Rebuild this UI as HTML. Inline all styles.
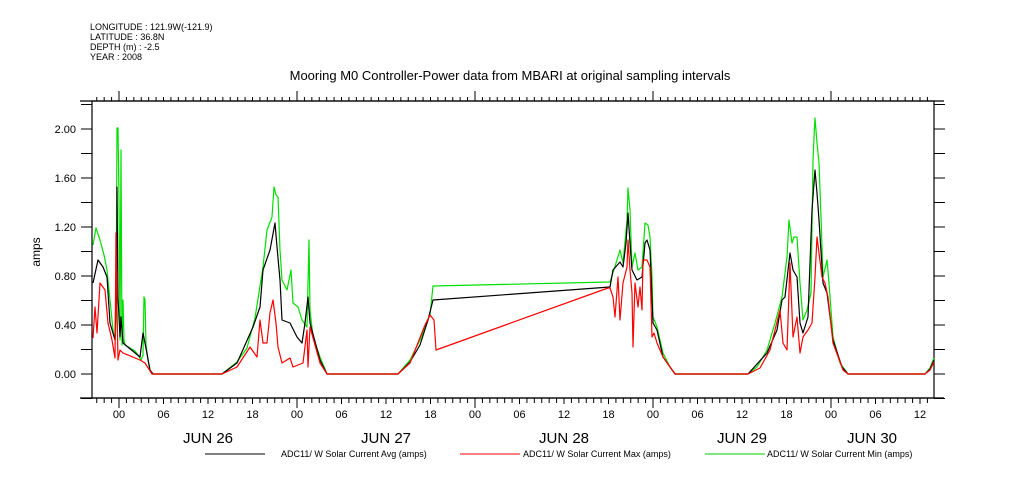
<!DOCTYPE html>
<html><head><meta charset="utf-8"><style>
html,body{margin:0;padding:0;background:#fff;}
svg{display:block;font-family:"Liberation Sans",sans-serif;}
</style></head><body>
<svg id="sv" width="1009" height="504" viewBox="0 0 1009 504" xmlns="http://www.w3.org/2000/svg">
<rect width="1009" height="504" fill="#fff"/>
<g font-size="9" fill="#000">
<text x="90" y="30">LONGITUDE : 121.9W(-121.9)</text>
<text x="90" y="40">LATITUDE : 36.8N</text>
<text x="90" y="50">DEPTH (m) : -2.5</text>
<text x="90" y="60">YEAR : 2008</text>
</g>
<text x="510" y="80" font-size="13" text-anchor="middle">Mooring M0 Controller-Power data from MBARI at original sampling intervals</text>
<rect x="92" y="101" width="842" height="297" fill="none" stroke="#000" stroke-width="1.2"/>
<line x1="80" y1="101" x2="944" y2="101" stroke="#000" stroke-width="1.2"/>
<line x1="80" y1="398" x2="944" y2="398" stroke="#000" stroke-width="1.2"/>
<g id="ticks" stroke="#000" stroke-width="1"></g>
<g font-size="11" text-anchor="end">
<text x="76" y="378">0.00</text><text x="76" y="329">0.40</text><text x="76" y="280">0.80</text>
<text x="76" y="231">1.20</text><text x="76" y="182">1.60</text><text x="76" y="133">2.00</text>
</g>
<text x="40" y="252" font-size="12" transform="rotate(-90 40 252)" text-anchor="middle">amps</text>
<g id="xl" font-size="11" text-anchor="middle"></g>
<g font-size="15" text-anchor="middle">
<text x="208" y="443">JUN 26</text><text x="386" y="443">JUN 27</text><text x="564" y="443">JUN 28</text>
<text x="742" y="443">JUN 29</text><text x="872" y="443">JUN 30</text>
</g>
<g fill="none" stroke-width="1.2" stroke-linejoin="round">
<polyline stroke="#00e000" points="93,245 96,228 100,240 104,255 107,270 110,300 113,330 115,340 116,320 117,128 118,128 119,200 120,340 121,150 122,345 123,300 124,340 125,345 130,348 135,351 138,355 141,360 143,355 144,297 145,300 146,345 148,360 150,370 152,374 222,374 237,362 247,348 255,318 263,267 267,230 272,217 274,187 276,195 278,197 280,250 282,280 287,290 291,270 293,303 298,307 302,320 307,327 309,240 310,310 313,337 320,357 327,374 398,374 410,360 420,340 430,315 433,286 610,282 617,260 620,250 623,263 627,220 628,188 630,210 632,267 635,253 638,270 642,267 645,223 648,225 650,237 652,277 653,317 657,327 663,353 670,367 675,374 748,374 757,367 767,350 775,323 782,297 787,257 789,220 792,243 794,237 797,237 800,283 803,320 807,310 811,293 813,160 814,137 815,118 817,143 819,163 821,217 823,277 827,260 829,283 833,337 840,363 848,374 925,374 930,368 934,358"/>
<polyline stroke="#000" points="93,283 98,260 103,267 107,277 110,323 115,340 117,243 117,187 118,297 120,337 121,317 123,343 140,357 143,333 145,343 150,370 153,374 222,374 237,363 253,327 260,307 263,270 270,250 275,223 277,247 280,280 282,320 290,323 297,337 302,343 305,323 308,297 310,323 320,360 327,374 398,374 410,362 420,345 428,320 433,300 610,287 613,270 620,262 623,267 626,243 628,213 630,243 632,270 637,280 642,277 645,243 647,240 650,250 653,323 657,330 663,357 675,374 748,374 767,353 777,330 782,300 785,297 790,253 793,270 797,277 800,323 803,333 808,317 812,210 815,170 817,193 819,220 823,283 827,293 833,340 842,367 848,374 925,374 930,369 934,360"/>
<polyline stroke="#f00" points="93,338 95,307 97,333 100,283 105,290 108,323 112,340 115,358 116,233 117,310 118,360 120,350 123,353 140,360 145,363 152,374 222,374 237,367 250,347 257,357 260,320 263,343 267,343 270,313 273,300 276,323 278,347 282,363 290,358 293,367 303,363 307,330 308,367 310,327 320,363 327,374 398,374 410,363 425,325 430,315 434,320 436,350 608,288 610,288 613,297 615,317 618,277 620,320 623,283 627,267 628,240 630,270 632,293 633,347 635,283 638,307 640,287 642,310 643,260 647,260 650,267 652,337 654,333 657,343 663,357 675,374 748,374 760,368 770,350 780,310 783,343 787,350 790,263 793,337 797,317 800,353 803,337 808,330 812,323 815,277 817,237 819,253 822,277 825,283 828,297 833,343 843,370 848,374 925,374 930,370 934,362"/>
</g>
<g font-size="9">
<line x1="205" y1="454" x2="265" y2="454" stroke="#000"/>
<text x="281" y="457">ADC11/ W Solar Current Avg (amps)</text>
<line x1="460" y1="454" x2="520" y2="454" stroke="#f00"/>
<text x="523" y="457">ADC11/ W Solar Current Max (amps)</text>
<line x1="705" y1="454" x2="765" y2="454" stroke="#0c0"/>
<text x="767" y="457">ADC11/ W Solar Current Min (amps)</text>
</g>
<script>
var g=document.getElementById('ticks'),xl=document.getElementById('xl'),ns='http://www.w3.org/2000/svg';
function ln(a,b,c,d){var l=document.createElementNS(ns,'line');l.setAttribute('x1',a);l.setAttribute('y1',b);l.setAttribute('x2',c);l.setAttribute('y2',d);l.setAttribute('stroke','#000');g.appendChild(l);}
for(var h=-3;h<=110;h++){var x=119+h*178/24;if(x>934)break;var m=((h%24)+24)%24;var L=m==0?10:(m%6==0?6:5);
ln(x,398,x,398+L);ln(x,101,x,101-(m==0?10:4));
if(m%6==0){var t=document.createElementNS(ns,'text');t.setAttribute('x',x);t.setAttribute('y',418);t.textContent=(m<10?'0':'')+m;xl.appendChild(t);}}
for(var i=-1;i<=11;i++){var y=374-i*0.2*122.5;ln(81,y,92,y);ln(934,y,945,y);}
</script>
</svg>
</body></html>
